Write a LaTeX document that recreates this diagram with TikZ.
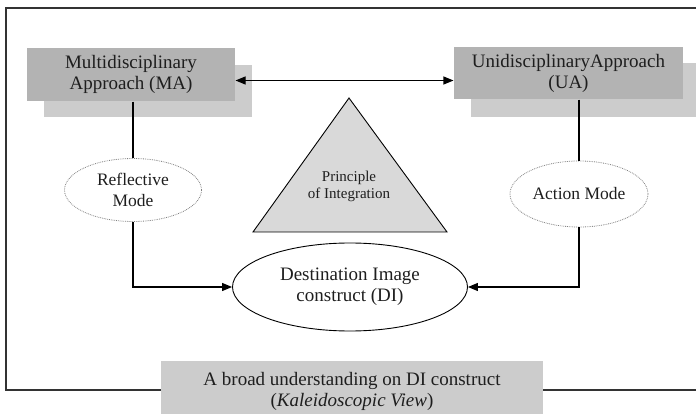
\documentclass[tikz,border=0pt]{standalone}
\usepackage{fontspec}
\setmainfont{Liberation Serif}
\usepackage{tikz}
\usetikzlibrary{positioning,calc}
\usetikzlibrary{arrows.meta}
\usetikzlibrary{shapes.geometric}
\definecolor{boxgray}{HTML}{B3B3B3}
\definecolor{shadegray}{HTML}{CCCCCC}
\definecolor{trigray}{HTML}{D9D9D9}
\definecolor{framegray}{HTML}{333333}
\definecolor{dotgray}{HTML}{808080}
\definecolor{inkgray}{HTML}{1E1E1E}

\begin{document}
\begin{tikzpicture}[x=1pt,y=-1pt,line width=1.1pt,text=inkgray,
    approach/.style={fill=boxgray,inner sep=0pt,align=center,
        font=\fontsize{19}{21}\selectfont},
    shade/.style={fill=shadegray},
    mode/.style={ellipse,draw=dotgray,densely dotted,line width=0.8pt,inner sep=0pt,
        align=center,font=\fontsize{17.5}{21}\selectfont},
    link/.style={-{Triangle[length=10pt,width=8pt]}},
    ]
 \clip (0,0) rectangle (696,414);

 % outer frame
 \draw[framegray,line width=1.2pt] (710,8) -- (6,8) -- (6,390) -- (710,390);

 % shadows behind the two approaches
 \fill[shade] (44,65) rectangle (252,117);
 \fill[shade] (471,63) rectangle (710,117);

 \node[approach,minimum width=208pt,minimum height=53pt] (ma) at (131,74.5)
   {Multidisciplinary\\Approach (MA)};
 \node[approach,minimum width=229pt,minimum height=52pt] (ua) at (568.5,73)
   {UnidisciplinaryApproach\\(UA)};

 \draw[{Triangle[length=10pt,width=8pt]}-{Triangle[length=10pt,width=8pt]}]
   ([yshift=-6pt]ma.east) -- ([yshift=-6pt]ma.east -| ua.west);

 % principle of integration
 \filldraw[fill=trigray,draw=black,line width=0.9pt] (349,98) -- (447,232) -- (253,232) -- cycle;
 \node[align=center,font=\fontsize{15}{17}\selectfont] (pi) at (349,186)
   {Principle\\of Integration};

 % modes
 \node[mode,minimum width=137pt,minimum height=63pt] (refl) at (133,190) {Reflective\\Mode};
 \node[mode,minimum width=138pt,minimum height=66pt] (act) at (579,194) {Action Mode};

 \node[ellipse,draw=black,line width=0.9pt,inner sep=0pt,minimum width=235pt,
   minimum height=88pt,align=center,font=\fontsize{19}{21}\selectfont] (di) at (350,287)
   {Destination Image\\construct (DI)};

 \draw (ma.south -| refl.north) -- (refl.north);
 \draw (ua.south -| act.north) -- (act.north);
 \draw[link] (refl.south) |- (di.west);
 \draw[link] (act.south) |- (di.east);

 % caption
 \node[fill=shadegray,inner sep=0pt,minimum width=382pt,minimum height=60pt,align=center,
   font=\fontsize{19}{21}\selectfont] (cap) at (352,391)
   {A broad understanding on DI construct\\(\textit{Kaleidoscopic View})};
\end{tikzpicture}
\end{document}
